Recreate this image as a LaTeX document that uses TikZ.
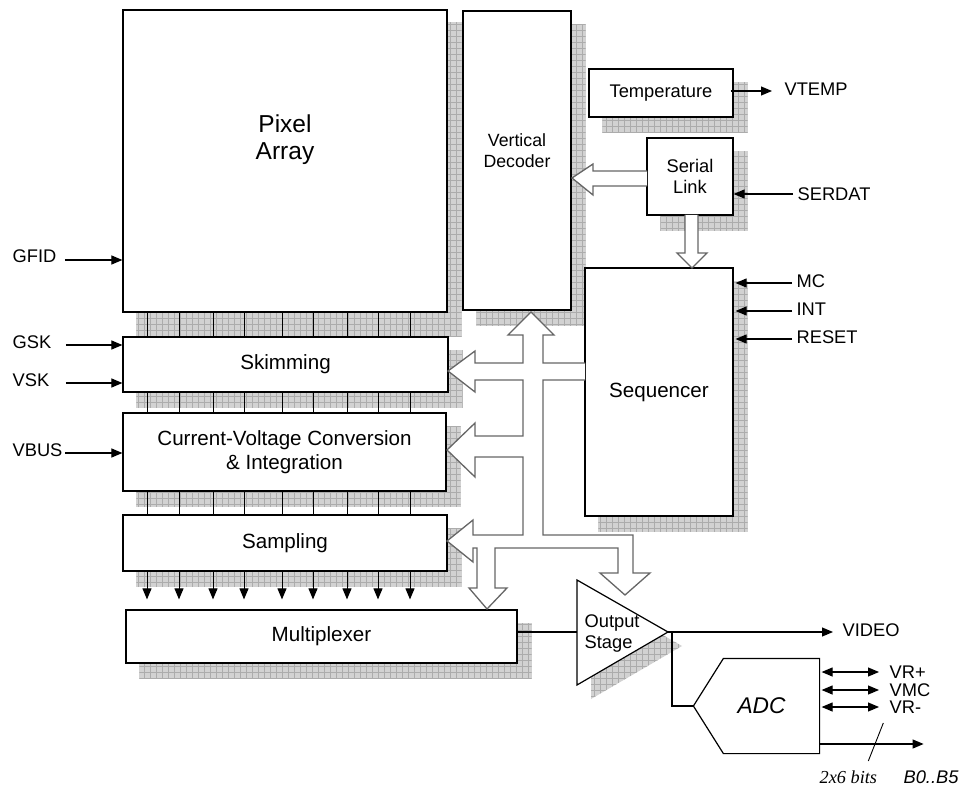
\documentclass[tikz,border=0pt]{standalone}
\usepackage{fontspec}
\setmainfont{Liberation Sans}
\newfontfamily\timesfont{Liberation Serif}
\usetikzlibrary{arrows.meta,patterns.meta,backgrounds}

\begin{document}
\begin{tikzpicture}[x=1pt,y=-1pt,line width=1.2pt,>={Triangle[length=11pt,width=9pt]},
  blk/.style={draw,fill=white,inner sep=0pt,align=center,font=\fontsize{18.3}{21}\selectfont},
  big/.style={font=\fontsize{20.6}{24}\selectfont},
  lbl/.style={inner sep=0pt,font=\fontsize{18.3}{21}\selectfont},
  sombra/.style={fill=gray!35,postaction={pattern={Hatch[distance=6pt,angle=0,line width=0.7pt]},pattern color=gray!65}},
  bus/.style={draw=black!60,fill=white,line width=1.3pt},
  arr/.style={->,line width=1.1pt}]
  \useasboundingbox (0,0) rectangle (963,786);
  % bloques
  \node[blk,minimum width=324pt,minimum height=302pt,label={[font=\fontsize{24.5}{27}\selectfont,align=center,yshift=21pt]center:Pixel\\Array}] (pix) at (285,161) {};
  \node[blk,minimum width=108pt,minimum height=299pt,label={[font=\fontsize{17.7}{20.5}\selectfont,align=center,yshift=10pt]center:Vertical\\Decoder}] (vdec) at (517,160.5) {};
  \node[blk,minimum width=144pt,minimum height=48pt] (temp) at (661,93) {Temperature};
  \node[blk,minimum width=86pt,minimum height=77pt] (serial) at (690,176.5) {Serial\\Link};
  \node[blk,big,minimum width=148pt,minimum height=248pt] (seq) at (659,392) {Sequencer};
  \node[blk,big,minimum width=325pt,minimum height=55pt] (skim) at (285.5,364.5) {Skimming};
  \node[blk,big,minimum width=323pt,minimum height=78pt] (cv) at (284.5,452) {Current-Voltage Conversion\\\& Integration};
  \node[blk,big,minimum width=324pt,minimum height=56pt] (samp) at (285,543) {Sampling};
  \node[blk,big,minimum width=391pt,minimum height=53pt] (mux) at (321.5,636.5) {Multiplexer};
  % etapa de salida y ADC
  \coordinate (otl) at (577,580); \coordinate (obl) at (577,685); \coordinate (otip) at (668,632);
  \draw[fill=white] (otl) -- (otip) -- (obl) -- cycle;
  \node[lbl,anchor=west,align=left] (outst) at (584,634) {Output\\Stage};
  \node[inner sep=0pt,minimum width=95pt,minimum height=94pt,label={[font=\fontsize{22.7}{26}\selectfont\itshape,xshift=-10pt]center:ADC}] (adc) at (771.5,706) {};
  \draw (adc.north west) -- (adc.north east) -- (adc.south east) -- (adc.south west) -- ([xshift=-30pt]adc.west) -- cycle;
  % sombras
  \begin{scope}[on background layer]
    \foreach \n in {vdec,temp,serial,seq,skim,cv,samp,mux}
      \path[sombra] ([shift={(14,15)}]\n.south west) rectangle ([shift={(14,14)}]\n.north east);
    \path[sombra] ([shift={(14,24)}]pix.south west) rectangle ([shift={(14,13)}]pix.north east);
    \path[sombra] ([shift={(14,14)}]otl) -- ([shift={(14,14)}]otip) -- ([shift={(14,14)}]obl) -- cycle;
  \end{scope}
  % columnas
  \foreach \x in {147,179,213,244,282,313,347,378,410} {
    \draw[line width=1pt] (pix.south -| \x,0) -- (skim.north -| \x,0);
    \draw[line width=1pt] (skim.south -| \x,0) -- (cv.north -| \x,0);
    \draw[line width=1pt] (cv.south -| \x,0) -- (samp.north -| \x,0);
    \draw[arr,line width=1pt] (samp.south -| \x,0) -- ([yshift=10pt]mux.north -| \x,0);
  }
  % buses de control (flechas huecas)
  \draw[bus] (585,363) -- (543,363) -- (543,335) -- (554,335) -- (531,312) -- (508,335) -- (523,335) -- (523,363)
    -- (475,363) -- (475,351) -- (448,371) -- (475,392) -- (475,380) -- (523,380) -- (523,436)
    -- (475,436) -- (475,423) -- (447,450) -- (475,477) -- (475,457) -- (523,457) -- (523,535)
    -- (473,535) -- (473,520) -- (447,541) -- (473,562) -- (473,548) -- (477,548) -- (477,588)
    -- (469,588) -- (487,609) -- (507,588) -- (495,588) -- (495,548) -- (618,548) -- (618,573)
    -- (600,573) -- (625,595) -- (650,573) -- (633,573) -- (633,535) -- (543,535) -- (543,380) -- (585,380);
  \draw[bus] (647,171) -- (593,171) -- (593,164) -- (572,178) -- (593,195) -- (593,186) -- (647,186);
  \draw[bus] (685,215) -- (685,253) -- (677,253) -- (692,268) -- (707,253) -- (698,253) -- (698,215);
  % entradas
  \node[lbl,anchor=west] (gfid) at (12,256) {GFID};
  \node[lbl,anchor=west] (gsk) at (12,342) {GSK};
  \node[lbl,anchor=west] (vsk) at (12,380) {VSK};
  \node[lbl,anchor=west] (vbus) at (12,450) {VBUS};
  \draw[arr] ([xshift=8pt,yshift=-4pt]gfid.east) -- ([yshift=-4pt]gfid.east -| pix.west);
  \draw[arr] ([xshift=14pt,yshift=-3pt]gsk.east) -- ([yshift=-3pt]gsk.east -| skim.west);
  \draw[arr] ([xshift=16pt,yshift=-3pt]vsk.east) -- ([yshift=-3pt]vsk.east -| skim.west);
  \draw[arr] ([xshift=2pt,yshift=-3pt]vbus.east) -- ([yshift=-3pt]vbus.east -| cv.west);
  \node[lbl,anchor=west] (serdat) at (797,194) {SERDAT};
  \node[lbl,anchor=west] (mc) at (796,281) {MC};
  \node[lbl,anchor=west] (int) at (796,309) {INT};
  \node[lbl,anchor=west] (reset) at (796,337) {RESET};
  \draw[arr] ([xshift=-4pt]serdat.west) -- (serdat.west -| serial.east);
  \draw[arr] ([xshift=-4pt,yshift=-2pt]mc.west) -- ([xshift=2pt,yshift=-2pt]mc.west -| seq.east);
  \draw[arr] ([xshift=-4pt,yshift=-2pt]int.west) -- ([xshift=2pt,yshift=-2pt]int.west -| seq.east);
  \draw[arr] ([xshift=-4pt,yshift=-2pt]reset.west) -- ([xshift=2pt,yshift=-2pt]reset.west -| seq.east);
  % salidas
  \node[lbl,anchor=west] (vtemp) at (784,89) {VTEMP};
  \draw[arr] ([xshift=-3pt,yshift=-2pt]temp.east |- vtemp) -- ([xshift=-12pt,yshift=-2pt]vtemp.west);
  \node[lbl,anchor=west] (video) at (842,630) {VIDEO};
  \draw[arr] (otip) -- ([xshift=-9pt]video.west |- otip);
  \draw (mux.east |- otip) -- (otip -| otl);
  \draw ([xshift=4pt]otip) |- ([xshift=-30pt]adc.west);
  \node[lbl,anchor=west] (vrp) at (889,672) {VR+};
  \node[lbl,anchor=west] (vmc) at (889,690) {VMC};
  \node[lbl,anchor=west] (vrm) at (889,707) {VR-};
  \draw[<->,line width=1.1pt] ([xshift=2pt]adc.east |- vrp) -- ([xshift=-10pt]vrp.west);
  \draw[<->,line width=1.1pt] ([xshift=2pt]adc.east |- vmc) -- ([xshift=-10pt]vmc.west);
  \draw[<->,line width=1.1pt] ([xshift=2pt]adc.east |- vrm) -- ([xshift=-10pt]vrm.west);
  \draw[arr] ([yshift=-38pt]adc.east) -- ++(104,0);
  \node[lbl,anchor=west,font=\fontsize{18.3}{21}\selectfont\timesfont\itshape] (bits) at (819,777) {2x6 bits};
  \node[lbl,anchor=west,font=\fontsize{18.3}{21}\selectfont\itshape] (bout) at (903,777) {B0..B5};
  \draw[line width=0.9pt] ([xshift=20pt,yshift=9pt]bits.north) -- ++(15,-38);
\end{tikzpicture}
\end{document}
